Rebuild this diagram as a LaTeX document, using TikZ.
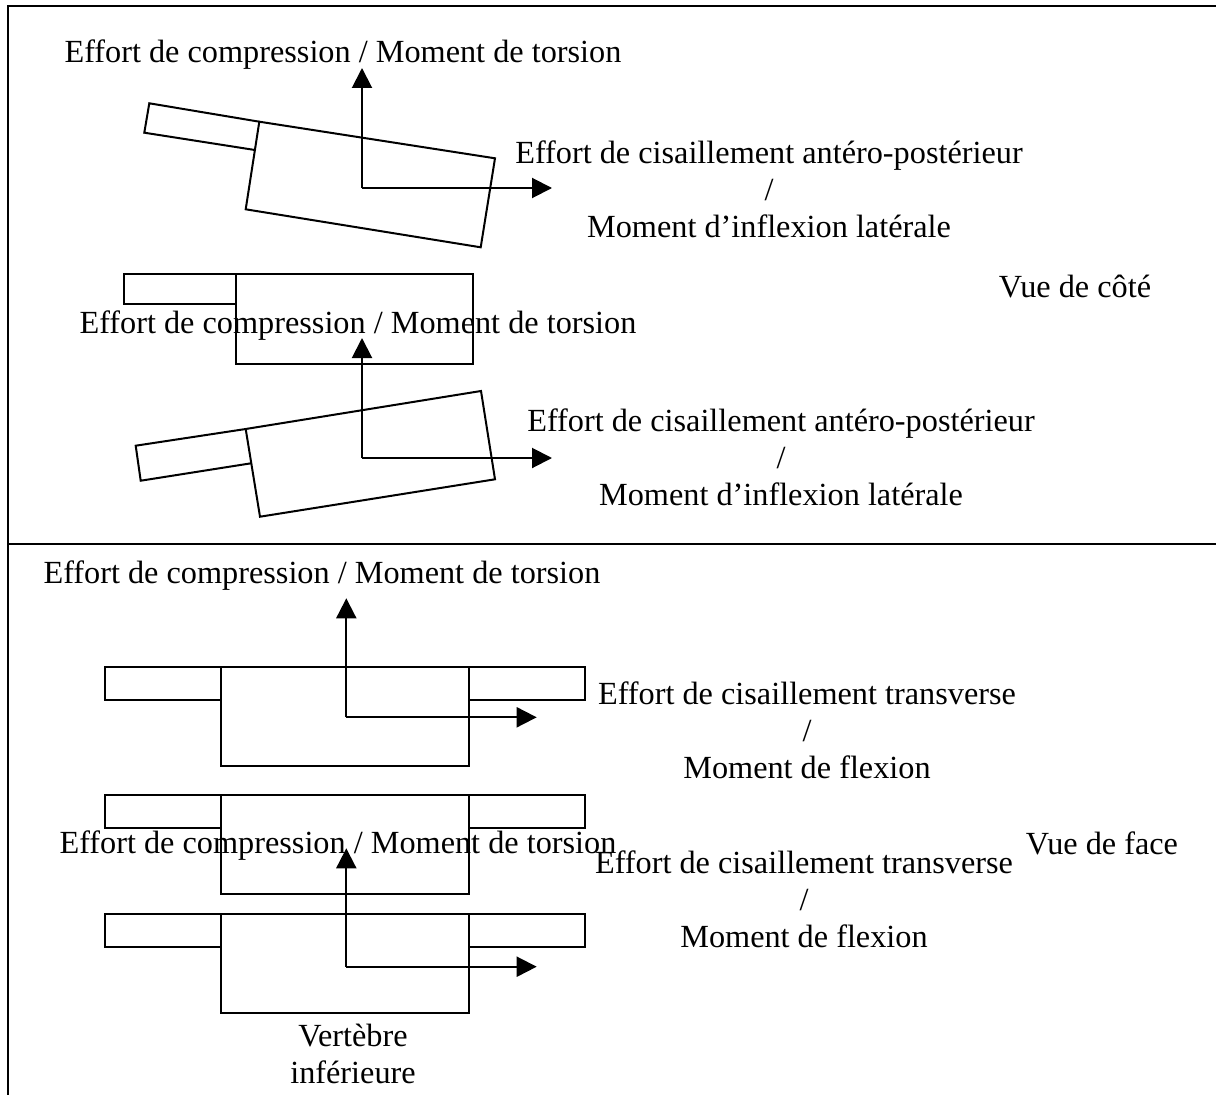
\documentclass[tikz,border=0pt]{standalone}
\usepackage{fontspec}
\setmainfont{Liberation Serif}
\usetikzlibrary{arrows.meta}

\tikzset{
    lbl/.style={inner sep=0pt, font=\fontsize{24.2}{27.75}\selectfont, align=center},
    vert/.style={line width=1.5pt, line join=miter},
    force/.style={line width=1.5pt, -{Triangle[length=15pt, width=15pt]}},
}

\begin{document}
\begin{tikzpicture}[x=0.75pt, y=-0.75pt]
    \useasboundingbox (0,0) rectangle (1216,1095);
    % cadre
    \draw[line width=1.5pt] (1216,6) -- (8,6) -- (8,1095);
    \draw[line width=1.5pt] (8,544) -- (1216,544);

    % vue de cote
    \draw[vert] (259.3,121.7) -- (495,158.3) -- (480.7,247.3) -- (245.7,209.3) -- cycle;
    \draw[vert] (259.3,121.7) -- (149.3,103.3) -- (144.3,132.7) -- (254.9,150);
    \draw[vert] (235.7,274) rectangle (473.3,364);
    \draw[vert] (235.7,274) -- (124,274) -- (124,304) -- (235.7,304);
    \draw[vert] (245.7,429) -- (481,391) -- (495,479.3) -- (260,516.7) -- cycle;
    \draw[vert] (245.7,429) -- (135.7,445.7) -- (140.7,480.7) -- (251,463.3);

    \coordinate (o1) at (362,188);
    \coordinate (n1) at (362,68);
    \coordinate (e1) at (552,188);
    \coordinate (o2) at (362,458);
    \coordinate (n2) at (362,338);
    \coordinate (e2) at (552,458);
    \draw[force] (o1) -- (n1);
    \draw[force] (o1) -- (e1);
    \draw[force] (o2) -- (n2);
    \draw[force] (o2) -- (e2);

    \node[lbl] (comp1) at (343,55) {Effort de compression / Moment de torsion};
    \node[lbl] (cis1) at (769,189) {Effort de cisaillement antéro-postérieur\\/\\Moment d’inflexion latérale};
    \node[lbl] (comp2) at (358,326) {Effort de compression / Moment de torsion};
    \node[lbl] (cis2) at (781,457) {Effort de cisaillement antéro-postérieur\\/\\Moment d’inflexion latérale};
    \node[lbl] (cote) at (1075,287) {Vue de côté};

    % vue de face
    \foreach \y in {667.3, 795, 914.3} {
        \draw[vert] (104.7,\y) rectangle (220.7,\y+33);
        \draw[vert] (220.7,\y) rectangle (469.3,\y+98.5);
        \draw[vert] (469.3,\y) rectangle (585.3,\y+33);
    }

    \coordinate (o3) at (346.3,717.3);
    \coordinate (n3) at (346.3,598.3);
    \coordinate (e3) at (536.7,717.3);
    \coordinate (o4) at (346.3,966.7);
    \coordinate (n4) at (346.3,848.3);
    \coordinate (e4) at (536.7,966.7);
    \draw[force] (o3) -- (n3);
    \draw[force] (o3) -- (e3);
    \draw[force] (o4) -- (n4);
    \draw[force] (o4) -- (e4);

    \node[lbl] (comp3) at (322,576) {Effort de compression / Moment de torsion};
    \node[lbl] (cis3) at (807,730) {Effort de cisaillement transverse\\/\\Moment de flexion};
    \node[lbl] (comp4) at (338,846) {Effort de compression / Moment de torsion};
    \node[lbl] (cis4) at (804,899) {Effort de cisaillement transverse\\/\\Moment de flexion};
    \node[lbl] (face) at (1102,843) {Vue de face};
    \node[lbl] (inf) at (353,1054) {Vertèbre\\inférieure};
\end{tikzpicture}
\end{document}
